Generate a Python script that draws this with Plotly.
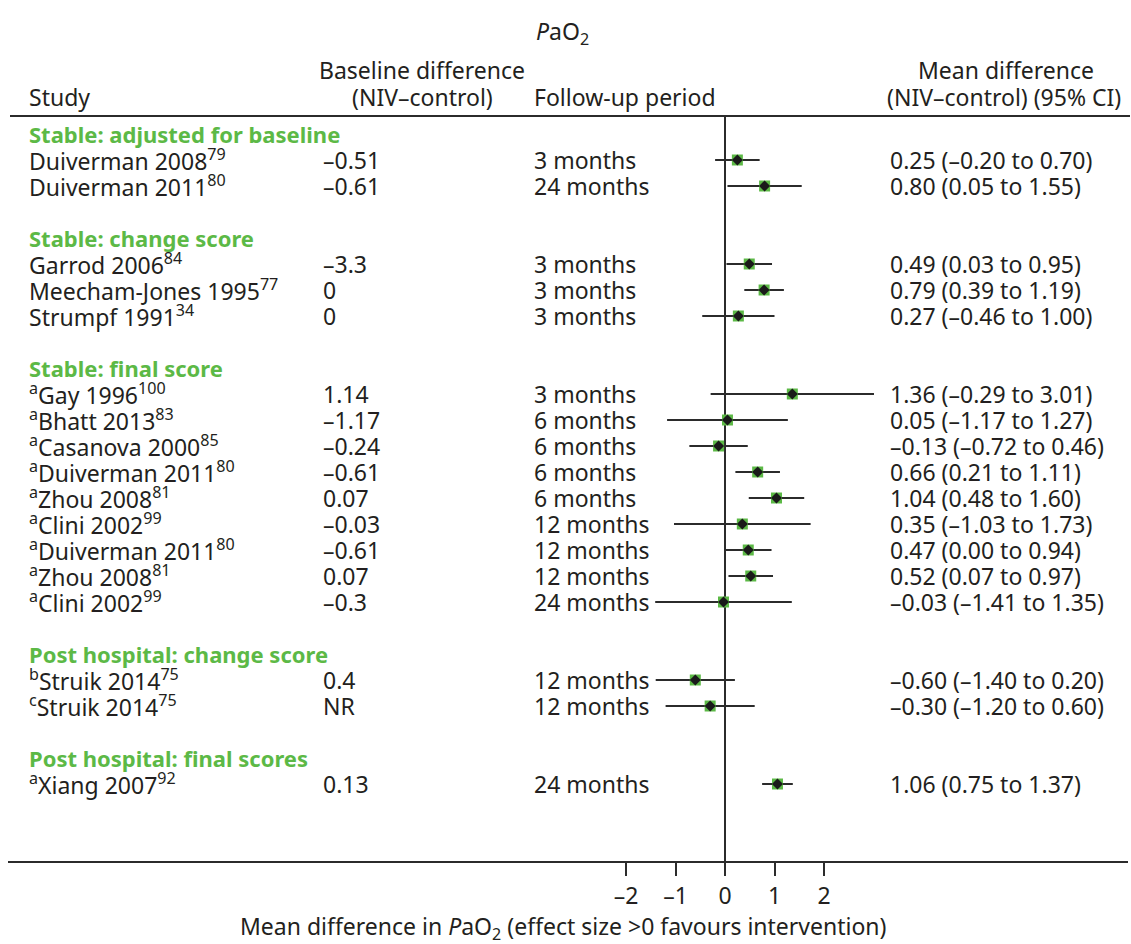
import plotly.graph_objects as go

# ---------------- data ----------------
groups = ["Stable: adjusted for baseline", "Stable: change score", "Stable: final score",
          "Post hospital: change score", "Post hospital: final scores"]
group_of = [0, 0, 1, 1, 1, 2, 2, 2, 2, 2, 2, 2, 2, 2, 3, 3, 4]
notes = ["", "", "", "", "", "a", "a", "a", "a", "a", "a", "a", "a", "a", "b", "c", "a"]
names = ["Duiverman 2008", "Duiverman 2011", "Garrod 2006", "Meecham-Jones 1995", "Strumpf 1991",
         "Gay 1996", "Bhatt 2013", "Casanova 2000", "Duiverman 2011", "Zhou 2008", "Clini 2002",
         "Duiverman 2011", "Zhou 2008", "Clini 2002", "Struik 2014", "Struik 2014", "Xiang 2007"]
refs = ["79", "80", "84", "77", "34", "100", "83", "85", "80", "81", "99", "80", "81", "99",
        "75", "75", "92"]
baseline = ["–0.51", "–0.61", "–3.3", "0", "0", "1.14", "–1.17", "–0.24", "–0.61", "0.07",
            "–0.03", "–0.61", "0.07", "–0.3", "0.4", "NR", "0.13"]
followup = ["3 months", "24 months", "3 months", "3 months", "3 months", "3 months", "6 months",
            "6 months", "6 months", "6 months", "12 months", "12 months", "12 months",
            "24 months", "12 months", "12 months", "24 months"]
md = [0.25, 0.80, 0.49, 0.79, 0.27, 1.36, 0.05, -0.13, 0.66, 1.04, 0.35, 0.47, 0.52, -0.03,
      -0.60, -0.30, 1.06]
lo = [-0.20, 0.05, 0.03, 0.39, -0.46, -0.29, -1.17, -0.72, 0.21, 0.48, -1.03, 0.00, 0.07,
      -1.41, -1.40, -1.20, 0.75]
hi = [0.70, 1.55, 0.95, 1.19, 1.00, 3.01, 1.27, 0.46, 1.11, 1.60, 1.73, 0.94, 0.97, 1.35,
      0.20, 0.60, 1.37]
tick_vals = [-2, -1, 0, 1, 2]
tick_text = ["–2", "–1", "0", "1", "2"]

# ---------------- layout helpers ----------------
W, H = 1131, 944
X0_PX, UNIT_PX = 725, 49.5          # pixel of effect 0, pixels per unit
ROW0_PX, ROW_PX = 134, 26           # pixel of row 0, row spacing
AXIS_PX = 862                       # bottom axis line pixel


def px2x(p):
    return (p - X0_PX) / UNIT_PX


def px2row(p):
    return (p - ROW0_PX) / ROW_PX


def fx(p):
    return p / W


def fy(p):
    return (H - p) / H


TXT = "#231f20"
GREEN = "#5cb946"
LINE = "#2b2b2b"
FONT = "Noto Sans"
FS = 23
FS_BOLD = 22

# assign rows
rows = []
header_rows = []
r = 0
for g in range(len(groups)):
    header_rows.append(r)
    idx = [i for i, gg in enumerate(group_of) if gg == g]
    for k, i in enumerate(idx):
        rows.append(r + 1 + k)
    r += len(idx) + 2

fig = go.Figure()

# CI lines
cx, cy = [], []
for i in range(len(md)):
    cx += [lo[i], hi[i], None]
    cy += [rows[i], rows[i], None]
fig.add_trace(go.Scatter(x=cx, y=cy, mode="lines", line=dict(color=LINE, width=2),
                         hoverinfo="skip", showlegend=False))
# markers
fig.add_trace(go.Scatter(x=md, y=rows, mode="markers",
                         marker=dict(symbol="square", size=11, color=GREEN, line=dict(width=0)),
                         showlegend=False))
fig.add_trace(go.Scatter(x=md, y=rows, mode="markers",
                         marker=dict(symbol="diamond", size=8.5, color="#1a1a1a", line=dict(width=0)),
                         showlegend=False))

ann = []


def add_text(text, xp, yv, anchor="left", color=TXT, size=FS, yref="y"):
    ann.append(dict(text=text, x=fx(xp), xref="paper", y=yv, yref=yref, xanchor=anchor,
                    yanchor="middle", showarrow=False,
                    font=dict(family=FONT, size=size, color=color)))


# group headers
for g, hr in zip(groups, header_rows):
    add_text("<b>" + g + "</b>", 27, hr, color=GREEN, size=FS_BOLD)

# study rows
for i in range(len(md)):
    lab = (("<sup>" + notes[i] + "</sup>") if notes[i] else "") + names[i] + "<sup>" + refs[i] + "</sup>"
    add_text(lab, 27, rows[i])
    add_text(baseline[i], 321, rows[i])
    add_text(followup[i], 532, rows[i])
    ci = "%s (%s to %s)" % tuple(("%.2f" % v).replace("-", "–") for v in (md[i], lo[i], hi[i]))
    add_text(ci, 888, rows[i])

# column headers (paper coordinates)
add_text("<i>P</i>aO<sub>2</sub>", 562, fy(32), anchor="center", yref="paper")
add_text("Study", 27, fy(97), yref="paper")
add_text("Baseline difference", 422, fy(70), anchor="center", yref="paper")
add_text("(NIV–control)", 422, fy(97), anchor="center", yref="paper")
add_text("Follow-up period", 532, fy(97), yref="paper")
add_text("Mean difference", 1006, fy(70), anchor="center", yref="paper")
add_text("(NIV–control) (95% CI)", 1123, fy(97), anchor="right", yref="paper")
add_text("Mean difference in <i>P</i>aO<sub>2</sub> (effect size &gt;0 favours intervention)",
         563, fy(927), anchor="center", yref="paper")

shapes = [
    dict(type="line", xref="paper", yref="paper", x0=fx(10), x1=fx(1130), y0=fy(116), y1=fy(116),
         line=dict(color=LINE, width=2)),
    dict(type="line", xref="paper", yref="paper", x0=fx(8), x1=fx(1128), y0=fy(AXIS_PX), y1=fy(AXIS_PX),
         line=dict(color=LINE, width=2)),
    dict(type="line", xref="x", yref="paper", x0=0, x1=0, y0=fy(116), y1=fy(AXIS_PX),
         line=dict(color=LINE, width=2), layer="below"),
]

fig.update_layout(
    width=W, height=H, margin=dict(l=0, r=0, t=0, b=0),
    paper_bgcolor="white", plot_bgcolor="white",
    font=dict(family=FONT, size=FS, color=TXT),
    showlegend=False,
    annotations=ann, shapes=shapes,
    xaxis=dict(range=[px2x(0), px2x(W)], domain=[0, 1], tickvals=tick_vals, ticktext=tick_text,
               ticks="outside", ticklen=13, tickwidth=2, tickcolor=LINE,
               showgrid=False, zeroline=False, showline=False,
               tickfont=dict(family=FONT, size=FS, color=TXT)),
    yaxis=dict(range=[px2row(AXIS_PX), px2row(0)], domain=[fy(AXIS_PX), 1],
               showgrid=False, zeroline=False, showline=False, showticklabels=False, ticks=""),
)

fig.write_html("out.html", config={"displayModeBar": False},
               post_script="document.body.style.margin='0';document.body.style.overflow='hidden';")
